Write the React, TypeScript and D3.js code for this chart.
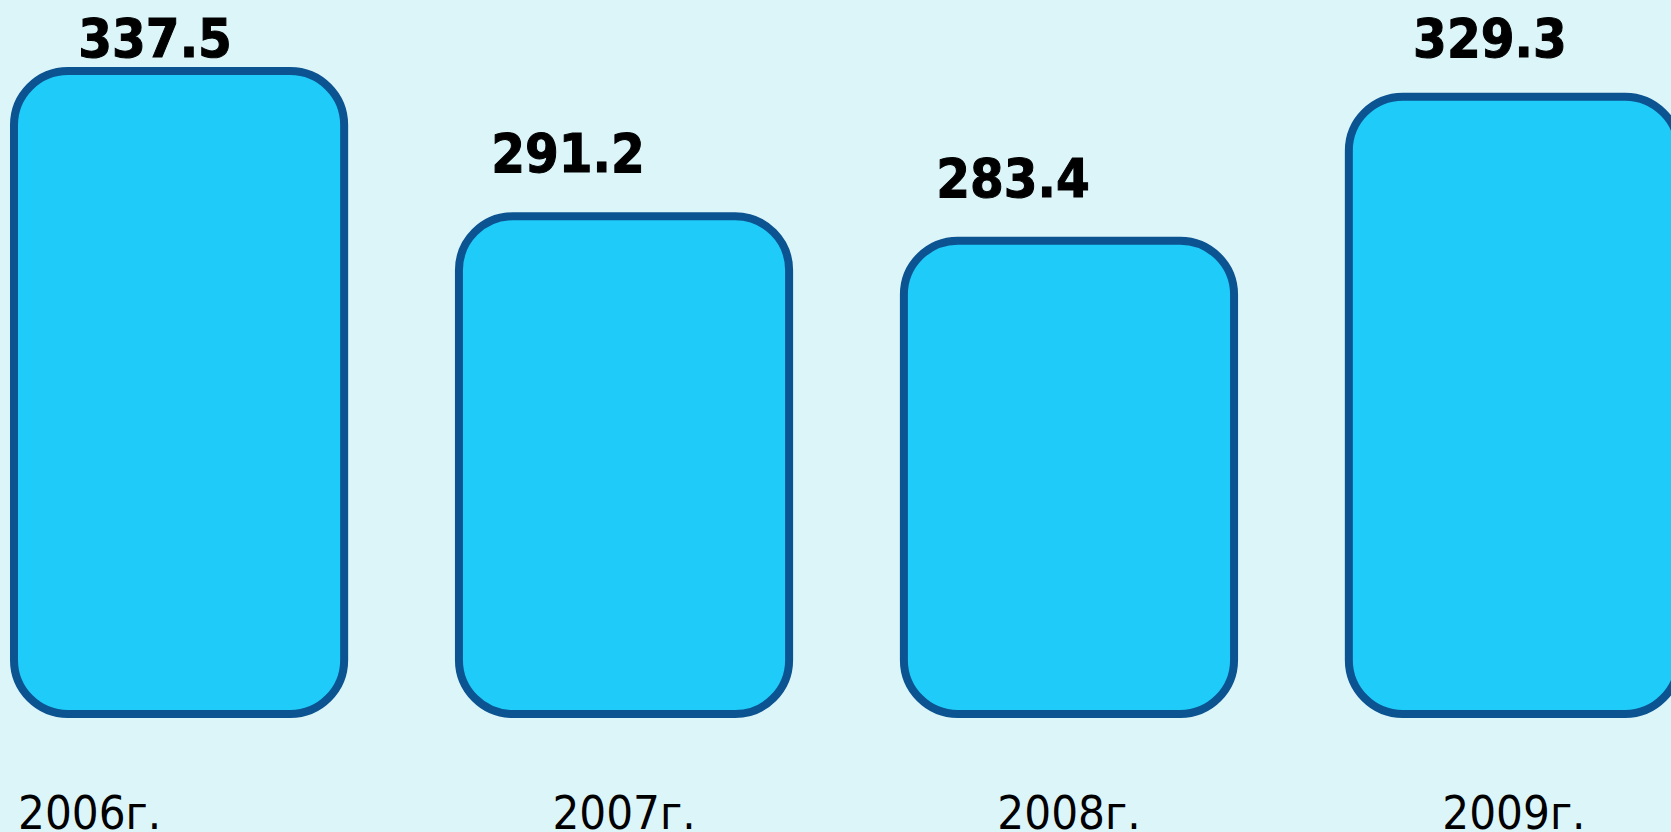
import * as d3 from 'd3';

const years = ['2006г.', '2007г.', '2008г.', '2009г.'];
const values = [337.5, 291.2, 283.4, 329.3];
const valueLabels = ['337.5', '291.2', '283.4', '329.3'];

const W = 1671;
const H = 832;

const App = () => {
  const stroke = 8;
  const baseline = 714; // stroke centre of bar bottoms

  const x = d3.scaleBand<string>()
    .domain(years)
    .range([10, 1683])
    .paddingInner(0.24)
    .paddingOuter(0);

  // the original chart does not start at zero
  const y = d3.scaleLinear()
    .domain([132.5, 337.5])
    .range([baseline, 71]);

  const font = "'DejaVu Sans Condensed', 'DejaVu Sans', sans-serif";

  return (
    <svg
      width={W}
      height={H}
      style={{ position: 'fixed', left: 0, top: 0, display: 'block' }}
    >
      <rect x={0} y={0} width={W} height={H} fill="#dcf5f9" />
      {years.map((yr, i) => {
        const x0 = x(yr)!;
        const bw = x.bandwidth();
        const top = y(values[i]);
        const cx = x0 + bw / 2;
        const raised = top - stroke / 2 - 40;
        const clamped = raised < 57; // label would leave the picture
        return (
          <g key={yr}>
            <rect
              x={x0 + stroke / 2}
              y={top}
              width={bw - stroke}
              height={baseline - top}
              rx={54}
              ry={54}
              fill="#1fcbf8"
              stroke="#0b5391"
              strokeWidth={stroke}
            />
            <text
              x={cx + (clamped ? -24 : -56)}
              y={clamped ? 57 : raised}
              textAnchor="middle"
              fontFamily={font}
              fontWeight="bold"
              fontSize={54}
              fill="#000"
              stroke="#000"
              strokeWidth={1}
            >
              {valueLabels[i]}
            </text>
            <text
              x={i === 0 ? x0 + 8 : cx}
              y={829}
              textAnchor={i === 0 ? 'start' : 'middle'}
              fontFamily={font}
              fontSize={47}
              fill="#000"
            >
              {yr}
            </text>
          </g>
        );
      })}
    </svg>
  );
};

export default App;
